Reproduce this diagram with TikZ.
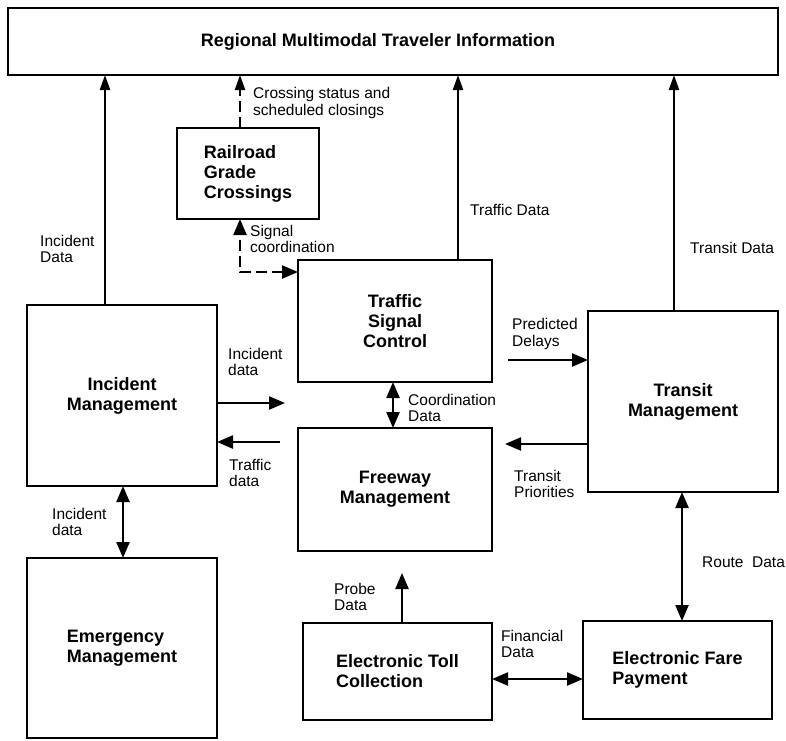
\documentclass[tikz,border=0pt]{standalone}
\usepackage{fontspec}
\setmainfont{Liberation Sans}
\usetikzlibrary{arrows.meta}

\tikzset{
  box/.style={draw, line width=2.6pt, inner sep=0pt, outer sep=0pt,
    font=\bfseries\fontsize{18}{20}\selectfont, align=center},
  lbox/.style={box, align=left},
  lbl/.style={anchor=west, align=left, inner sep=0pt,
    font=\fontsize{15.5}{16.5}\selectfont},
  arr/.style={line width=2.3pt, -{Triangle[length=16pt,width=13pt]}},
  uparr/.style={line width=2.2pt, -{Triangle[length=15pt,width=10pt]}},
  dbl/.style={line width=2.3pt, {Triangle[length=16pt,width=13pt]}-{Triangle[length=16pt,width=13pt]}},
  dsh/.style={dash pattern=on 11pt off 5pt}
}

\begin{document}
\begin{tikzpicture}[x=1pt, y=-1pt]
\useasboundingbox (0,0) rectangle (786,740);

% systems
\node[box, minimum width=770pt, minimum height=67pt] (top) at (393,41.5)
  {Regional Multimodal Traveler Information\hspace*{30pt}};
\node[lbox, minimum width=142pt, minimum height=91pt] (rr) at (248,173.5)
  {Railroad\\Grade\\Crossings};
\node[box, minimum width=194pt, minimum height=122pt] (tsc) at (395,321)
  {Traffic\\Signal\\Control};
\node[box, minimum width=190pt, minimum height=181pt] (inc) at (122,395.5)
  {Incident\\Management};
\node[box, minimum width=194pt, minimum height=123pt] (fm) at (395,489.5)
  {Freeway\\Management};
\node[box, minimum width=190pt, minimum height=181pt] (tm) at (683,401.5)
  {Transit\\Management};
\node[lbox, minimum width=190pt, minimum height=180pt] (em) at (122,648)
  {Emergency\\Management};
\node[lbox, minimum width=189pt, minimum height=97pt] (etc) at (397.5,671.5)
  {Electronic Toll\\Collection};
\node[lbox, minimum width=189pt, minimum height=98pt] (efp) at (677.5,670)
  {Electronic Fare\\Payment};

% reference points for the flows
\coordinate (xinc) at (105,0);
\coordinate (xrr) at (240,0);
\coordinate (xtsc) at (458,0);
\coordinate (xtm) at (674,0);
\coordinate (sc) at (240,272);
\coordinate (ir) at (285,403);
\coordinate (tl) at (280,442);
\coordinate (cd) at (393,0);
\coordinate (pd) at (508,360);
\coordinate (tp) at (505,444);
\coordinate (ie) at (123,0);
\coordinate (rd) at (682,0);
\coordinate (fd) at (0,679);
\coordinate (pb) at (402,573);

% flows into the traveler information system
\draw[uparr] (xinc |- inc.north) -- (xinc |- top.south);
\draw[uparr, dsh] (xrr |- rr.north) -- (xrr |- top.south);
\draw[uparr] (xtsc |- tsc.north) -- (xtsc |- top.south);
\draw[uparr] (xtm |- tm.north) -- (xtm |- top.south);

% signal coordination with the railroad crossings
\draw[dbl, dsh] (tsc.west |- sc) -- (sc) -- (sc |- rr.south);

% flows between the management centres
\draw[arr] (ir -| inc.east) -- (ir);
\draw[arr] (tl) -- (tl -| inc.east);
\draw[dbl] (cd |- tsc.south) -- (cd |- fm.north);
\draw[arr] (pd) -- (pd -| tm.west);
\draw[arr] (tp -| tm.west) -- (tp);
\draw[dbl] (ie |- inc.south) -- (ie |- em.north);
\draw[dbl] (rd |- tm.south) -- (rd |- efp.north);
\draw[dbl] (fd -| etc.east) -- (fd -| efp.west);
\draw[arr] (pb |- etc.north) -- (pb);

% flow labels
\node[lbl] (l1) at (40,249) {Incident\\Data};
\node[lbl] (l2) at (253,103) {Crossing status and\\scheduled closings};
\node[lbl] (l3) at (250,239) {Signal\\coordination};
\node[lbl] (l4) at (470,210) {Traffic Data};
\node[lbl] (l5) at (690,248) {Transit Data};
\node[lbl] (l6) at (228,362) {Incident\\data};
\node[lbl] (l7) at (229,473) {Traffic\\data};
\node[lbl] (l8) at (408,408) {Coordination\\Data};
\node[lbl] (l9) at (512,334) {Predicted\\Delays};
\node[lbl] (l10) at (514,484) {Transit\\Priorities};
\node[lbl] (l11) at (702,562) {Route\ \ Data};
\node[lbl] (l12) at (501,644) {Financial\\Data};
\node[lbl] (l13) at (334,597) {Probe\\Data};
\node[lbl] (l14) at (52,522) {Incident\\data};
\end{tikzpicture}
\end{document}
